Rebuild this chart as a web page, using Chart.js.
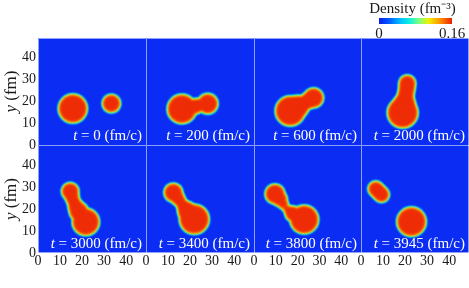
<!DOCTYPE html>
<html>
<head>
<meta charset="utf-8">
<script src="https://cdn.jsdelivr.net/npm/chart.js@4"></script>
<style>
  body { margin: 0; background: #fff; }
  #wrap { position: relative; width: 469px; height: 288px; overflow: hidden; }
  #wrap canvas { position: absolute; }
</style>
</head>
<body>
<div id="wrap"></div>
<script>
// snapshot times (fm/c)
const times = [0, 200, 600, 2000, 3000, 3400, 3800, 3945];

// density clumps: [x (fm), y (fm), outer radius (fm)]
const blobs0 = [[15.8, 16.7, 7.0], [33.3, 19.0, 4.6]];
const blobs1 = [[16.3, 16.5, 7.1], [22.0, 17.6, 4.0], [24.0, 18.2, 3.6], [28.0, 18.9, 5.1]];
const blobs2 = [[16.6, 15.6, 7.3], [20.1, 17.6, 5.6], [22.7, 19.0, 4.1], [24.9, 20.3, 4.3], [27.3, 21.6, 5.0]];
const blobs3 = [[18.9, 14.8, 7.4], [19.6, 18.5, 5.6], [20.0, 21.0, 4.5], [20.4, 23.5, 4.2], [20.8, 26.0, 4.2], [21.0, 28.2, 4.3]];
const blobs4 = [[14.6, 28.0, 4.4], [15.4, 25.5, 3.7], [16.2, 23.3, 3.5], [17.2, 21.0, 4.0], [18.5, 18.8, 4.8], [21.7, 14.1, 6.6]];
const blobs5 = [[12.4, 27.4, 4.7], [14.3, 25.0, 3.7], [15.6, 23.2, 3.2], [16.6, 21.8, 3.2], [17.6, 20.4, 3.8], [18.8, 18.8, 4.9], [21.9, 15.3, 7.2]];
const blobs6 = [[9.6, 26.8, 5.0], [11.8, 24.5, 3.9], [13.4, 22.2, 2.8], [14.8, 20.4, 2.3], [16.2, 19.0, 2.8], [17.8, 17.8, 4.0], [23.0, 15.2, 7.0]];
const blobs7 = [[6.7, 29.1, 4.0], [8.0, 27.8, 4.0], [9.3, 26.5, 4.0], [22.9, 14.2, 7.1]];
const panelBlobs = [blobs0, blobs1, blobs2, blobs3, blobs4, blobs5, blobs6, blobs7];

const axisTicks = [0, 10, 20, 30, 40];
const axisMax = 49;
const densityRange = [0, 0.16];
const densityTicks = [0, 0.16];

// look
const serif = '"Liberation Serif", "Times New Roman", serif';
const bgBlue = '#0b2cf2';
const layerDepth = [0, 0.17, 0.34, 0.5, 0.67, 0.84, 1.0, 1.2, 1.4];
const layerColor = ['#0a6cff', '#00b8ff', '#00eef0', '#50ffa0', '#c0ff38', '#ffe000', '#ff9a00', '#f85400', '#ee2c06'];
const colLeft = [38, 146, 254, 361], colW = [108, 108, 107, 108];
const rowTop = [38, 145], rowH = [107, 108];

const wrap = document.getElementById('wrap');

function drawMixed(ctx, parts, x, y, size, color, align) {
  let total = 0;
  parts.forEach(p => { ctx.font = (p[1] ? 'italic ' : '') + size + 'px ' + serif; total += ctx.measureText(p[0]).width; });
  let cx = align === 'right' ? x - total : align === 'center' ? x - total / 2 : x;
  ctx.fillStyle = color;
  ctx.textAlign = 'left';
  ctx.textBaseline = 'alphabetic';
  parts.forEach(p => {
    ctx.font = (p[1] ? 'italic ' : '') + size + 'px ' + serif;
    ctx.fillText(p[0], cx, y);
    cx += ctx.measureText(p[0]).width;
  });
}

const panelDecor = {
  id: 'panelDecor',
  beforeDraw(chart) {
    const a = chart.chartArea, ctx = chart.ctx;
    ctx.save();
    ctx.fillStyle = bgBlue;
    ctx.fillRect(a.left, a.top, a.right - a.left, a.bottom - a.top);
    ctx.restore();
  },
  beforeDatasetsDraw(chart) {
    chart.ctx.save();
    chart.ctx.filter = 'blur(0.8px)';
  },
  afterDatasetsDraw(chart, args, opts) {
    const ctx = chart.ctx, a = chart.chartArea;
    ctx.restore();
    ctx.save();
    ctx.strokeStyle = 'rgba(255,255,255,0.55)';
    ctx.lineWidth = 1;
    ctx.beginPath();
    ctx.moveTo(a.left + 0.5, a.bottom); ctx.lineTo(a.left + 0.5, a.top + 0.5); ctx.lineTo(a.right, a.top + 0.5);
    if (opts.col === 3) { ctx.moveTo(a.right - 0.5, a.top); ctx.lineTo(a.right - 0.5, a.bottom); }
    if (opts.row === 1) { ctx.moveTo(a.left, a.bottom - 0.5); ctx.lineTo(a.right, a.bottom - 0.5); }
    ctx.stroke();
    drawMixed(ctx, [['t', true], [' = ' + opts.time + ' (fm/c)', false]], a.right - 4, a.bottom - 5.5, 15, '#fff', 'right');
    if (opts.row === 1) {
      drawMixed(ctx, [['x', true], [' (fm)', false]], (a.left + a.right) / 2 - 2, 284, 17, '#1a1a1a', 'center');
    }
    if (opts.col === 0) {
      ctx.translate(16, (a.top + a.bottom) / 2);
      ctx.rotate(-Math.PI / 2);
      drawMixed(ctx, [['y', true], [' (fm)', false]], 0, 0, 17, '#1a1a1a', 'center');
    }
    ctx.restore();
  }
};

function pxRadius(ctx, depth) {
  const s = ctx.chart.scales.x;
  const r = ctx.raw.R - depth;
  return r > 0 ? s.getPixelForValue(r) - s.getPixelForValue(0) : 0;
}

function makePanel(i) {
  const row = Math.floor(i / 4), col = i % 4;
  const padL = col > 0 ? 6 : 0;
  const yW = col === 0 ? 38 : 0;
  const xH = row === 1 ? 35 : 0;
  const padB = row === 0 ? 8 : 0;
  const w = padL + yW + colW[col];
  const h = rowH[row] + xH + padB;
  const cv = document.createElement('canvas');
  cv.width = w; cv.height = h;
  cv.style.left = (colLeft[col] - padL - yW) + 'px';
  cv.style.top = rowTop[row] + 'px';
  cv.style.width = w + 'px'; cv.style.height = h + 'px';
  wrap.appendChild(cv);

  const datasets = layerDepth.map((d, k) => ({
    data: panelBlobs[i].map(b => ({ x: b[0], y: b[1], R: b[2] })),
    order: layerDepth.length - k,
    backgroundColor: layerColor[k],
    borderWidth: 0,
    pointRadius: ctx => pxRadius(ctx, d),
    pointHoverRadius: ctx => pxRadius(ctx, d),
    pointStyle: 'circle'
  }));
  const tickFont = { family: serif, size: 14 };
  new Chart(cv, {
    type: 'scatter',
    data: { datasets },
    options: {
      responsive: false,
      animation: false,
      events: [],
      layout: { padding: { left: padL, right: 0, top: 0, bottom: padB } },
      plugins: { legend: { display: false }, tooltip: { enabled: false },
        panelDecor: { row, col, time: times[i] } },
      scales: {
        x: {
          type: 'linear', min: 0, max: axisMax, display: row === 1,
          afterBuildTicks: s => { s.ticks = axisTicks.map(v => ({ value: v })); },
          afterFit: s => { if (row === 1) { s.height = xH; s.paddingLeft = 0; s.paddingRight = 0; } },
          grid: { display: false, drawTicks: false }, border: { display: false },
          ticks: { font: tickFont, color: '#1a1a1a', padding: 0, maxRotation: 0, autoSkip: false }
        },
        y: {
          type: 'linear', min: 0, max: axisMax, display: col === 0,
          afterBuildTicks: s => { s.ticks = axisTicks.map(v => ({ value: v })); },
          afterFit: s => { if (col === 0) { s.width = yW; s.paddingTop = 0; s.paddingBottom = 0; } },
          grid: { display: false, drawTicks: false }, border: { display: false },
          ticks: { font: tickFont, color: '#1a1a1a', padding: 2, autoSkip: false }
        }
      }
    },
    plugins: [panelDecor]
  });
}

for (let i = 0; i < 8; i++) makePanel(i);

// colour bar
const cb = document.createElement('canvas');
cb.width = 129; cb.height = 38;
cb.style.left = '340px'; cb.style.top = '0px';
cb.style.width = '129px'; cb.style.height = '38px';
wrap.appendChild(cb);

const cbTitle = {
  id: 'cbTitle',
  afterDraw(chart) {
    const a = chart.chartArea, ctx = chart.ctx;
    ctx.save();
    ctx.font = '15px ' + serif;
    ctx.fillStyle = '#1a1a1a';
    ctx.textAlign = 'center';
    ctx.textBaseline = 'alphabetic';
    ctx.fillText('Density (fm⁻³)', (a.left + a.right) / 2 - 3, 13);
    ctx.restore();
  }
};

new Chart(cb, {
  type: 'bar',
  data: {
    labels: ['density'],
    datasets: [{
      data: [densityRange],
      borderWidth: 0,
      barPercentage: 1,
      categoryPercentage: 1,
      backgroundColor: ctx => {
        const a = ctx.chart.chartArea;
        if (!a) return bgBlue;
        const g = ctx.chart.ctx.createLinearGradient(a.left, 0, a.right, 0);
        g.addColorStop(0, '#0a1ef0');
        g.addColorStop(0.12, '#0050ff');
        g.addColorStop(0.3, '#00c4ff');
        g.addColorStop(0.42, '#10f0e0');
        g.addColorStop(0.55, '#80ff80');
        g.addColorStop(0.68, '#f0f000');
        g.addColorStop(0.84, '#ff9000');
        g.addColorStop(1, '#e82000');
        return g;
      }
    }]
  },
  options: {
    indexAxis: 'y',
    responsive: false,
    animation: false,
    events: [],
    layout: { padding: { left: 39, right: 17, top: 18, bottom: 0 } },
    plugins: { legend: { display: false }, tooltip: { enabled: false } },
    scales: {
      x: {
        min: densityRange[0], max: densityRange[1],
        afterBuildTicks: s => { s.ticks = densityTicks.map(v => ({ value: v })); },
        afterFit: s => { s.height = 14; s.paddingLeft = 0; s.paddingRight = 0; },
        grid: { display: false, drawTicks: false }, border: { display: false },
        ticks: { font: { family: serif, size: 15 }, color: '#1a1a1a', padding: 1, maxRotation: 0, autoSkip: false,
          callback: v => String(v) }
      },
      y: { display: false }
    }
  },
  plugins: [cbTitle]
});
</script>
</body>
</html>
